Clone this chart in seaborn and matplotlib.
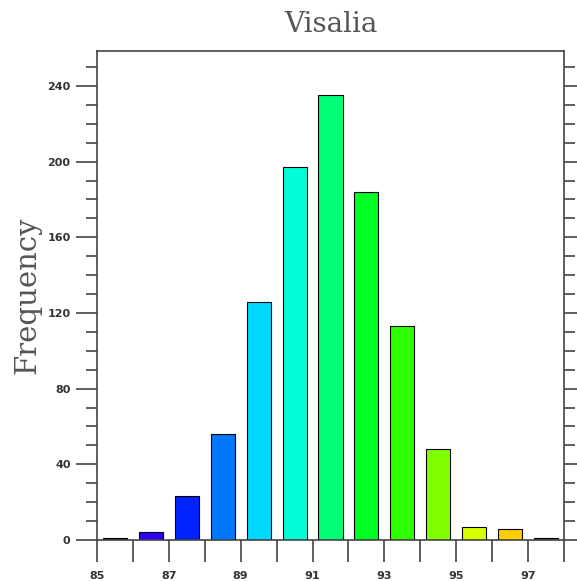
import pandas as pd
import seaborn as sns
import matplotlib.pyplot as plt
from matplotlib.ticker import MultipleLocator

# Histogram values
bin_centers = [85.5, 86.5, 87.5, 88.5, 89.5, 90.5, 91.5, 92.5, 93.5, 94.5, 95.5, 96.5, 97.5]
counts = [1, 4, 23, 56, 126, 197, 235, 184, 113, 48, 7, 6, 1]
bar_colors = ['#200050', '#3000ff', '#0022ff', '#0077ff', '#00d8ff', '#00ffd8', '#00ff77',
              '#00ff22', '#30ff00', '#80ff00', '#d8ff00', '#ffcc00', '#803000']
x_labels = [85, 87, 89, 91, 93, 95, 97]
y_labels = [0, 40, 80, 120, 160, 200, 240]

data = pd.DataFrame({'temp': bin_centers, 'count': counts})

sns.set_style('white')
fig = plt.figure(figsize=(5.77, 5.81), dpi=100)
ax = fig.add_axes([0.168, 0.0706, 0.8095, 0.8416])

sns.barplot(data=data, x='temp', y='count', hue='temp', palette=bar_colors,
            native_scale=True, width=0.67, saturation=1, edgecolor='black',
            linewidth=0.8, legend=False, ax=ax)

ax.set_xlim(85, 98)
ax.set_ylim(0, 258.5)
ax.set_xticks(x_labels)
ax.set_xticklabels([str(v) for v in x_labels])
ax.xaxis.set_minor_locator(MultipleLocator(1))
ax.set_yticks(y_labels)
ax.set_yticklabels([str(v) for v in y_labels])
ax.yaxis.set_minor_locator(MultipleLocator(10))

for side in ['left', 'right', 'top', 'bottom']:
    ax.spines[side].set_color('#444444')
    ax.spines[side].set_linewidth(1.2)

ax.tick_params(axis='both', which='both', direction='out', color='#444444', width=1.2)
ax.tick_params(axis='y', which='major', length=15, left=True, right=True,
               labelsize=8, labelcolor='#333333', pad=4)
ax.tick_params(axis='y', which='minor', length=8, left=True, right=True)
ax.tick_params(axis='x', which='major', length=16, bottom=True, top=False,
               labelsize=8, labelcolor='#333333', pad=6)
ax.tick_params(axis='x', which='minor', length=16, bottom=True, top=False)
for lab in ax.get_xticklabels() + ax.get_yticklabels():
    lab.set_fontweight('bold')

ax.set_xlabel('')
ax.set_ylabel('Frequency', family='DejaVu Serif', fontsize=21, color='#555555', labelpad=4)
ax.set_title('Visalia', family='DejaVu Serif', fontsize=20, color='#555555', pad=14)

fig.savefig('out.png', dpi=100)
